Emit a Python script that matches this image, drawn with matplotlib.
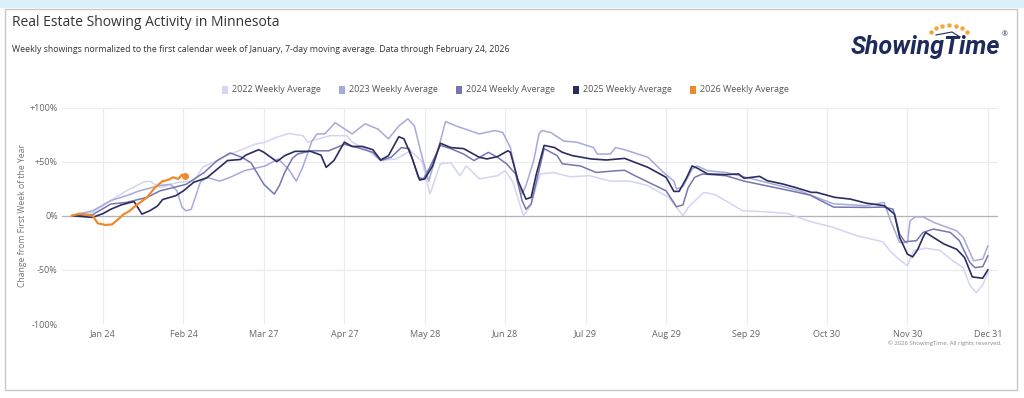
import numpy as np
import matplotlib
matplotlib.use("Agg")
import matplotlib.pyplot as plt
from matplotlib.patches import Rectangle

plt.rcParams['font.family'] = ['Open Sans', 'DejaVu Sans']

# x axis: day of year
tick_days = [23, 54, 85, 116, 147, 178, 209, 240, 271, 302, 333, 364]
tick_labels = ["Jan 24", "Feb 24", "Mar 27", "Apr 27", "May 28", "Jun 28",
               "Jul 29", "Aug 29", "Sep 29", "Oct 30", "Nov 30", "Dec 31"]
y_ticks = [-100, -50, 0, 50, 100]
y_labels = ["-100%", "-50%", "0%", "+50%", "+100%"]

series_names = ["2022 Weekly Average", "2023 Weekly Average", "2024 Weekly Average",
                "2025 Weekly Average", "2026 Weekly Average"]
series_colors = ["#d3d5f1", "#a6a9dc", "#7577ae", "#2b2d5e", "#ef8a2a"]

days_2022 = [11, 19, 26, 32, 38.5, 41, 45, 49, 52.5, 58, 61.5, 67, 72, 77.5, 81.5, 85.5, 90.5, 94.5,
             100, 102, 104.5, 110.5, 117, 119, 124, 130, 136, 141.5, 146, 149, 153, 157, 160.5, 163,
             168, 175, 178, 181, 185, 187.5, 191.5, 196.5, 203, 210.5, 218.5, 226, 233, 241, 246.5,
             248.5, 254.5, 259, 269.5, 278, 287, 295.5, 304.5, 313.5, 323.5, 326.5, 330, 333, 335.5,
             340, 345.5, 350.5, 354.5, 357, 359.5, 362, 364]
vals_2022 = [0, 3, 14, 23, 31, 32, 26, 29, 31, 32, 45, 51, 57, 62, 66, 68, 73, 76,
             74, 68, 70, 74, 74, 68, 62, 51, 52.5, 60, 50, 20, 48, 49, 37, 46,
             34, 37, 41.6, 31, 0, 8, 38.6, 40, 36, 37, 32, 32, 27.8, 17, 0,
             7.7, 21.6, 19.4, 4.6, 3.7, 2, -5.3, -10.8, -18.5, -24, -33, -41, -46, -32,
             -30, -32, -41.6, -48, -64, -71, -64, -53]

days_2023 = [11, 19, 26, 32, 37, 45, 49, 51.5, 53.5, 55, 57, 59, 60.5, 63, 68, 72, 77.5, 85.5,
             90.5, 94.5, 97.5, 100, 103.5, 105.5, 108.5, 112.5, 115, 119, 124, 129, 133, 137,
             140.5, 143, 146, 148.5, 152, 155, 159, 168, 174, 177, 180, 182.5, 184.5, 186, 189,
             191, 192, 195.5, 200.5, 205.5, 212, 213.5, 218.5, 220.5, 224, 233, 239, 243, 244,
             246.5, 250, 252, 256, 263, 270, 280, 291.5, 304.5, 317, 324, 326.5, 330, 333, 334,
             336, 339, 343, 352, 354.5, 358.5, 362, 364]
vals_2023 = [0, 4.6, 14, 18.5, 23, 28, 29, 23, 7.7, 4.6, 6, 20, 31, 35.5, 32, 35.5, 41.6, 46,
             52.5, 43, 32, 45, 69, 75.6, 75.6, 86, 82, 75.6, 85, 80, 71, 83,
             89.5, 83, 54, 32, 60, 87, 83, 75.6, 78.7, 77, 63, 35.5, 20, 28, 51,
             75.6, 78.7, 77, 69, 68, 63, 57, 57, 63, 61, 54, 40, 32, 24.7,
             27, 43, 46, 41.6, 40, 36, 30, 23, 11, 9.3, 12.3, -4.6, -24.7, -24.7, -4.6,
             -1, -1, -6, -14, -20, -41.6, -40, -28]

days_2024 = [11, 19, 26, 32, 40, 45, 50, 55, 62, 67, 72, 76.5, 80, 85, 89, 91, 93, 96, 98, 103,
             110, 116, 121, 127, 130, 134, 138, 141, 144.5, 146.5, 149, 153, 157, 162, 166, 171.5,
             175, 178.5, 182, 184.5, 186, 188, 191, 193, 198, 200, 207, 213, 221, 224, 228, 240,
             244, 246.5, 248.5, 251, 254, 263, 270, 280, 290, 295.5, 304.5, 317, 324, 327.5, 330,
             332, 336.5, 339, 343, 349.5, 353, 357, 359, 362, 364]
vals_2024 = [0, 1, 10.8, 12.3, 17, 23, 26, 29, 40, 51, 58, 54, 49, 29, 20, 28, 40, 53, 57, 60,
             60, 66, 63, 58.6, 51, 54, 63, 62, 35.5, 34, 45, 65, 62, 57, 51, 58.6,
             54, 48, 38.6, 14, 6, 10.8, 41.6, 62, 55.5, 48, 46, 40, 41.6, 42, 37, 23,
             8.3, 10, 26, 35.5, 38.6, 37, 32, 27, 22, 19, 8, 7.7, 8, 6, -17,
             -24, -23, -15.4, -12.3, -15.4, -23, -43, -48, -47, -37]

days_2025 = [11, 19, 23, 26, 30, 33, 35, 38, 41, 44, 46, 51, 54, 58, 63, 67, 71, 76, 78, 83,
             85, 90, 93, 97, 103, 107, 109, 112, 116, 119, 123, 127, 130, 133, 137, 139, 142, 145,
             147, 150, 153, 157, 162, 168, 171, 175, 179, 180, 183, 186, 188, 190, 193, 197, 200,
             204, 211, 217, 224, 233, 240, 243, 245, 248, 250, 252, 256, 263, 268, 270, 276, 279,
             285, 290, 296, 298, 305, 311, 317, 324, 328, 330, 333, 335, 337, 339, 340, 343, 347,
             352, 355, 358, 362, 364]
vals_2025 = [0, -1.5, 2, 6, 10, 12, 13, 1.5, 4.6, 9, 15, 18.5, 23, 31, 35, 43, 51, 52, 56, 61,
             58.6, 50, 55.5, 59.5, 59.5, 56, 44.7, 51, 68, 64, 64, 61, 51.5, 55.5, 73, 71, 54, 33,
             34, 46, 67, 63, 62, 54, 52.5, 54.6, 60, 58.6, 32, 15.4, 17, 38.6, 65, 63, 58.6,
             55.5, 52.5, 51.5, 53, 44.7, 35.5, 22.5, 22.5, 35.5, 46, 44, 38.6, 38, 38.6, 34.6, 36.4, 32.4,
             29.3, 26, 21.6, 21.6, 17, 15.4, 11.7, 9.3, 1.6, -20, -35.5, -38, -31, -20, -15.4, -20, -26,
             -31, -38.6, -56.5, -57.7, -50]

days_2026 = [11, 14, 19, 21, 24, 26.5, 29, 31, 33, 36, 40, 43, 46, 48, 50, 52, 53.5, 54.5]
vals_2026 = [0, 2, 0, -7, -8.5, -8, -3, 1.5, 4, 10, 17, 26, 32, 33, 35.5, 34, 38, 37]

all_days = [days_2022, days_2023, days_2024, days_2025, days_2026]
all_vals = [vals_2022, vals_2023, vals_2024, vals_2025, vals_2026]
line_widths = [1.1, 1.1, 1.1, 1.2, 1.6]

W, H = 1024, 398
fig = plt.figure(figsize=(W / 100, H / 100), dpi=100)

# page strip + card frame
fig.patches.append(Rectangle((0, 1 - 8 / H), 1, 8 / H, transform=fig.transFigure,
                             facecolor="#dcf0fb", edgecolor="none", zorder=0))
fig.patches.append(Rectangle((5 / W, 1 - 390 / H), 1012 / W, 381 / H, transform=fig.transFigure,
                             fill=False, edgecolor="#c8c8c8", lw=1.0, zorder=0))

ax = fig.add_axes([62 / W, 1 - 324 / H, 936 / W, 216.5 / H])
for name, d, v, c, lw in zip(series_names, all_days, all_vals, series_colors, line_widths):
    ax.plot(d, v, color=c, lw=lw, solid_joinstyle="round", label=name)
ax.plot(days_2026[-1], vals_2026[-1], "o", ms=4, color=series_colors[-1])

ax.set_xlim(7.2, 367.9)
ax.set_ylim(-100, 100)
ax.set_xticks(tick_days)
ax.set_xticklabels(tick_labels)
ax.set_yticks(y_ticks)
ax.set_yticklabels(y_labels)
ax.tick_params(axis="both", length=0, labelsize=6.5, colors="#666666")
ax.tick_params(axis="x", pad=4)
ax.tick_params(axis="y", pad=3)
ax.grid(True, color="#e9e9ef", lw=0.8)
ax.set_axisbelow(True)
ax.axhline(0, color="#b4b4b4", lw=0.9, zorder=1)
for s in ax.spines.values():
    s.set_visible(False)
ax.set_ylabel("Change from First Week of the Year", fontsize=6.2, color="#777777", labelpad=2)

# titles
fig.text(12 / W, 1 - 22 / H, "Real Estate Showing Activity in Minnesota",
         fontsize=10, color="#333333", va="center")
fig.text(12 / W, 1 - 50 / H,
         "Weekly showings normalized to the first calendar week of January, 7-day moving average. "
         "Data through February 24, 2026",
         fontsize=6.3, color="#333333", va="center")

# legend
for i, (name, c) in enumerate(zip(series_names, series_colors)):
    x0 = 222 + i * 117
    fig.patches.append(Rectangle((x0 / W, 1 - 94 / H), 6 / W, 8 / H, transform=fig.transFigure,
                                 facecolor=c, edgecolor="none"))
    fig.text((x0 + 10) / W, 1 - 90 / H, name, fontsize=6.5, color="#555555", va="center")

# logo
fig.text(1000 / W, 1 - 47 / H, "ShowingTime", fontsize=18, fontweight="bold", style="italic",
         family="Roboto", color="#1d2b5c", ha="right", va="center")
fig.text(1002 / W, 1 - 35 / H, "®", fontsize=5, color="#1d2b5c", ha="left", va="center")
ang = np.linspace(np.pi * 0.85, np.pi * 0.15, 7)
fig.lines.append(plt.Line2D((949 + 20 * np.cos(ang)) / W, 1 - (37 - 12 * np.sin(ang)) / H,
                            transform=fig.transFigure, ls="none", marker="o", ms=2.2,
                            color="#f4a63a"))
fig.lines.append(plt.Line2D([936 / W, 952 / W, 960 / W], [1 - 35 / H, 1 - 32 / H, 1 - 37 / H],
                            transform=fig.transFigure, color="#1d2b5c", lw=0.8))

fig.text(1002 / W, 1 - 343 / H, "© 2026 ShowingTime. All rights reserved.",
         fontsize=4.3, color="#888888", ha="right", va="center")

fig.savefig("out.png", dpi=100)
